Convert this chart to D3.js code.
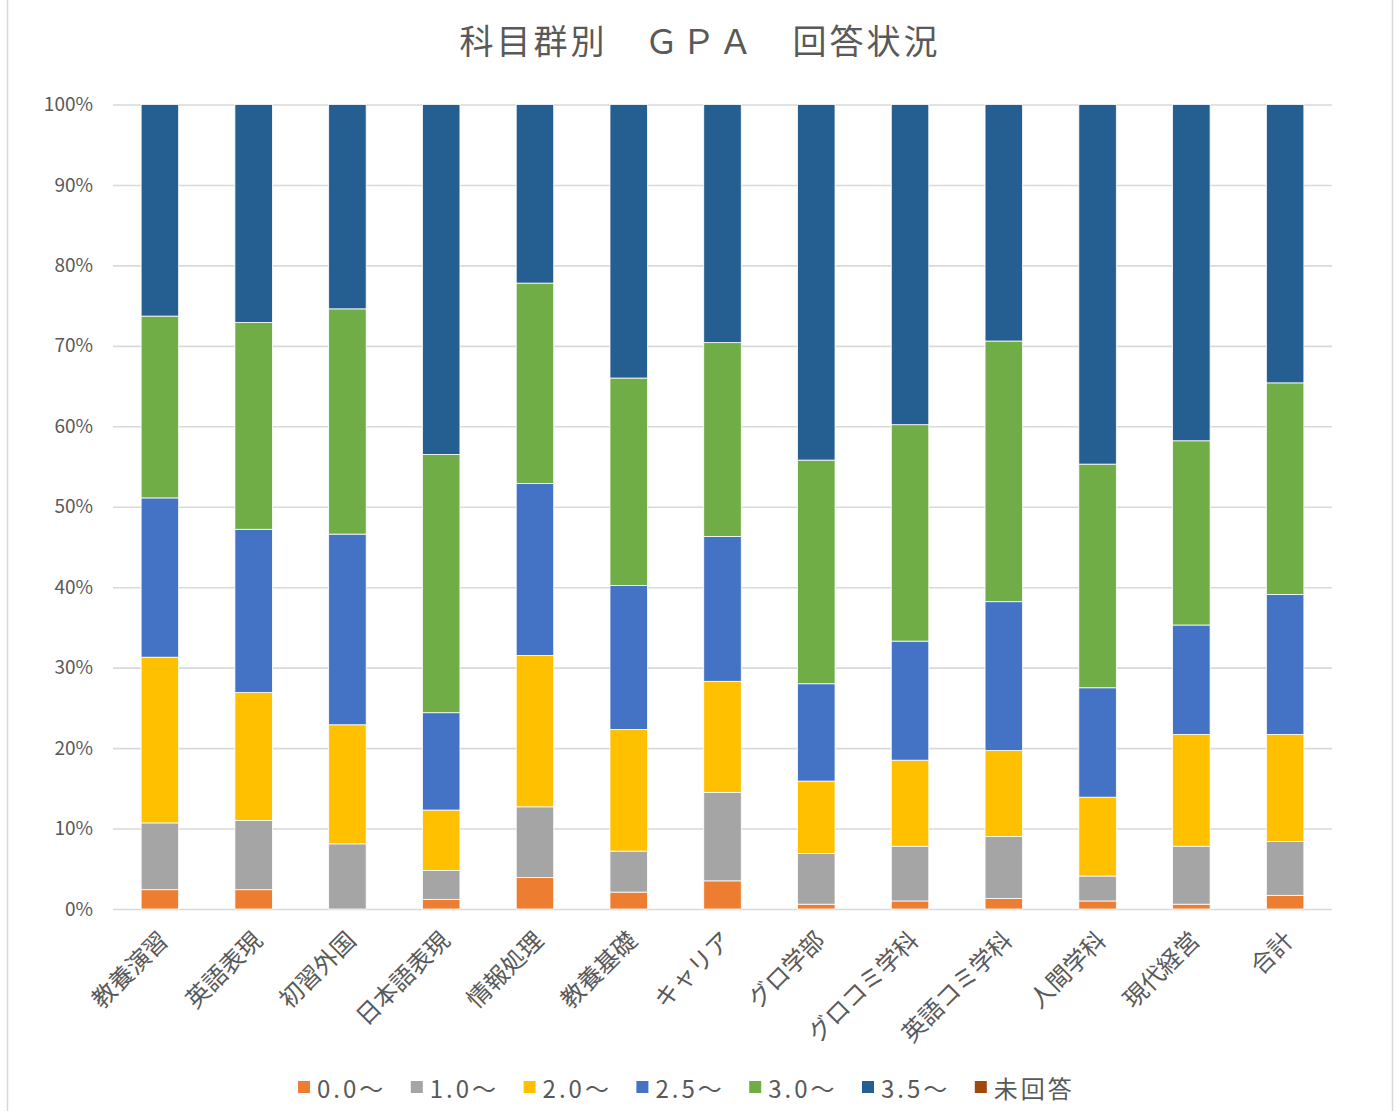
<!DOCTYPE html>
<html lang="ja">
<head>
    <meta charset="UTF-8">
    <title>科目群別 GPA 回答状況</title>
    <script src="https://cdn.jsdelivr.net/npm/d3@7"></script>
    <style>
        html, body {
            margin: 0;
            padding: 0;
            background: #ffffff;
        }

        svg text {
            font-family: "Noto Sans CJK JP", "Noto Sans", sans-serif;
            fill: #595959;
        }
    </style>
</head>
<body>
<div id="chart"></div>
<script>
    // categories (x axis)
    let categories = ["教養演習", "英語表現", "初習外国", "日本語表現", "情報処理", "教養基礎", "キャリア",
        "グロ学部", "グロコミ学科", "英語コミ学科", "人間学科", "現代経営", "合計"];

    // series names / colours
    let seriesNames = ["0.0～", "1.0～", "2.0～", "2.5～", "3.0～", "3.5～", "未回答"];
    let seriesColors = ["#ED7D31", "#A5A5A5", "#FFC000", "#4472C4", "#70AD47", "#255E91", "#9E480E"];

    // share (%) of each GPA band per category
    let g00 = [2.4, 2.4, 0.0, 1.2, 3.9, 2.1, 3.5, 0.6, 1.0, 1.3, 1.0, 0.6, 1.7];
    let g10 = [8.3, 8.6, 8.1, 3.6, 8.8, 5.1, 11.0, 6.3, 6.8, 7.7, 3.1, 7.2, 6.7];
    let g20 = [20.6, 15.9, 14.8, 7.5, 18.8, 15.1, 13.8, 9.0, 10.7, 10.7, 9.8, 13.9, 13.3];
    let g25 = [19.8, 20.3, 23.7, 12.1, 21.4, 17.9, 18.0, 12.1, 14.8, 18.5, 13.6, 13.6, 17.4];
    let g30 = [22.6, 25.7, 28.0, 32.1, 24.9, 25.8, 24.1, 27.8, 26.9, 32.4, 27.8, 22.9, 26.3];
    let g35 = [26.3, 27.1, 25.4, 43.5, 22.2, 34.0, 29.6, 44.2, 39.8, 29.4, 44.7, 41.8, 34.6];
    let noAnswer = [0, 0, 0, 0, 0, 0, 0, 0, 0, 0, 0, 0, 0];

    let yTicks = [0, 10, 20, 30, 40, 50, 60, 70, 80, 90, 100];

    let seriesValues = [g00, g10, g20, g25, g30, g35, noAnswer];

    let rows = categories.map(function (c, i) {
        let r = {cat: c};
        seriesNames.forEach(function (s, j) {
            r[s] = seriesValues[j][i];
        });
        return r;
    });

    let width = 1397, height = 1111;
    let plotLeft = 113, plotRight = 1332, plotTop = 104.5, plotBottom = 909;

    let svg = d3.select("#chart").append("svg")
        .attr("width", width)
        .attr("height", height);

    // outer chart frame (side edges)
    svg.append("line").attr("x1", 7.5).attr("x2", 7.5).attr("y1", 0).attr("y2", height)
        .attr("stroke", "#d9d9d9").attr("stroke-width", 1.5);
    svg.append("line").attr("x1", 1392.5).attr("x2", 1392.5).attr("y1", 0).attr("y2", height)
        .attr("stroke", "#d9d9d9").attr("stroke-width", 1.5);

    svg.append("text")
        .attr("x", 700)
        .attr("y", 39)
        .attr("dominant-baseline", "central")
        .style("text-anchor", "middle")
        .style("font-size", "34px")
        .style("letter-spacing", "3px")
        .text("科目群別　ＧＰＡ　回答状況");

    let x = d3.scaleBand()
        .domain(categories)
        .range([plotLeft, plotRight])
        .paddingInner(0.6)
        .paddingOuter(0.3);

    let y = d3.scaleLinear()
        .domain([0, 100])
        .range([plotBottom, plotTop]);

    // y axis + gridlines
    let yAxis = svg.append("g")
        .attr("transform", "translate(" + plotLeft + ",0)")
        .call(d3.axisLeft(y)
            .tickValues(yTicks)
            .tickSize(-(plotRight - plotLeft))
            .tickPadding(20)
            .tickFormat(function (d) {
                return d + "%";
            }));
    yAxis.select(".domain").remove();
    yAxis.selectAll(".tick line")
        .attr("stroke", "#d9d9d9")
        .attr("stroke-width", 1.6);
    yAxis.selectAll(".tick text")
        .style("font-size", "19px")
        .attr("fill", "#595959");

    // stacked bars
    let stack = d3.stack().keys(seriesNames);
    let layers = stack(rows);

    svg.selectAll("g.layer")
        .data(layers)
        .enter()
        .append("g")
        .attr("class", "layer")
        .attr("fill", function (d, i) {
            return seriesColors[i];
        })
        .selectAll("rect")
        .data(function (d) {
            return d.filter(function (p) {
                return p[1] - p[0] > 0;
            });
        })
        .enter()
        .append("rect")
        .attr("x", function (d) {
            return x(d.data.cat);
        })
        .attr("width", x.bandwidth())
        .attr("y", function (d) {
            return y(d[1]);
        })
        .attr("height", function (d) {
            return y(d[0]) - y(d[1]);
        })
        .attr("stroke", "#ffffff")
        .attr("stroke-width", 0.8);

    // x axis labels
    let xAxis = svg.append("g")
        .attr("transform", "translate(0," + plotBottom + ")")
        .call(d3.axisBottom(x).tickSize(0));
    xAxis.select(".domain").remove();
    xAxis.selectAll(".tick text")
        .attr("x", 0)
        .attr("y", 0)
        .attr("dy", "0.35em")
        .attr("transform", "translate(4,27) rotate(-45)")
        .style("text-anchor", "end")
        .style("font-size", "24px")
        .attr("fill", "#595959");

    // legend
    let legend = svg.append("g")
        .attr("transform", "translate(298,1081)");

    let item = legend.selectAll("g.item")
        .data(seriesNames)
        .enter()
        .append("g")
        .attr("class", "item")
        .attr("transform", function (d, i) {
            return "translate(" + (i * 112.8) + ",0)";
        });

    item.append("rect")
        .attr("width", 12)
        .attr("height", 12)
        .attr("fill", function (d, i) {
            return seriesColors[i];
        });

    item.append("text")
        .attr("x", 19)
        .attr("y", 6)
        .attr("dominant-baseline", "central")
        .style("font-size", "24px")
        .style("letter-spacing", "3px")
        .text(function (d) {
            return d;
        });
</script>
</body>
</html>
